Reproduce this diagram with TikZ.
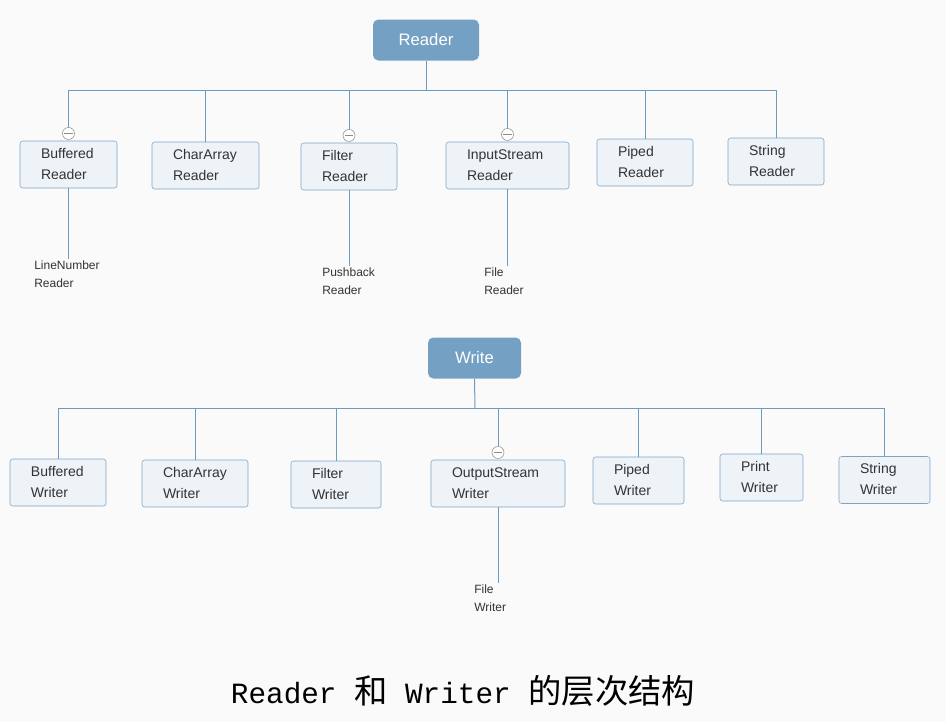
\documentclass[tikz,border=0pt]{standalone}
\usepackage{fontspec}
\setmainfont{Liberation Sans}
\setmonofont{Liberation Mono}
\newfontfamily\cjk{Noto Sans CJK SC}
\usetikzlibrary{positioning}

\definecolor{pagebg}{HTML}{FAFAFA}
\definecolor{headfill}{HTML}{74A1C3}
\definecolor{boxfill}{HTML}{EEF3F7}
\definecolor{boxline}{HTML}{7BA5C7}
\definecolor{linkcol}{HTML}{6C9BC2}
\definecolor{txtcol}{HTML}{333333}
\definecolor{abstcol}{HTML}{8C8C8C}

\newcommand{\zhtext}[1]{{\cjk\fontsize{25}{26}\selectfont #1}}

\begin{document}
\begin{tikzpicture}[x=0.75pt, y=-0.75pt,
    head/.style={rectangle, rounded corners=4pt, fill=headfill, text=white,
        font=\fontsize{12.5}{14}\selectfont, minimum height=30.75pt},
    cls/.style={rectangle, rounded corners=2pt, draw=boxline, fill=boxfill,
        minimum height=35.25pt},
    lbl/.style={anchor=west, inner sep=0pt, xshift=15.75pt, yshift=0.6pt, align=left,
        text=txtcol, font=\fontsize{10.5}{15.75}\selectfont},
    sub/.style={anchor=north west, inner xsep=0pt, inner ysep=1.5pt, align=left,
        text=txtcol, font=\fontsize{9}{13.5}\selectfont},
    abst/.style={circle, draw=abstcol, fill=white, inner sep=0pt, minimum size=9pt,
        path picture={\draw[abstcol] ([xshift=1.3pt]path picture bounding box.west)
            -- ([xshift=-1.3pt]path picture bounding box.east);}},
    link/.style={draw=linkcol, line width=0.75pt}]

    % Page
    \path[use as bounding box, fill=pagebg] (0,0) rectangle (946,722);

    % Reader and its subclasses
    \node[head, minimum width=79.5pt] (rd) at (426,40) {Reader};
    \coordinate (rbus) at (426,90);

    \node[cls, minimum width=72.75pt, label={[lbl]west:Buffered\\Reader}] (bfr) at (68.5,164.5) {};
    \node[cls, minimum width=80.25pt, label={[lbl]west:CharArray\\Reader}] (car) at (205.5,165.5) {};
    \node[cls, minimum width=72pt, label={[lbl]west:Filter\\Reader}] (flr) at (349,166.5) {};
    \node[cls, minimum width=92.25pt, label={[lbl]west:InputStream\\Reader}] (isr) at (507.5,165.5) {};
    \node[cls, minimum width=72pt, label={[lbl]west:Piped\\Reader}] (ppr) at (645,162.5) {};
    \node[cls, minimum width=72pt, label={[lbl]west:String\\Reader}] (str) at (776,161.5) {};

    % Abstract markers
    \node[abst, above=0.75pt of bfr] (bfra) {};
    \node[abst, above=0.75pt of flr] (flra) {};
    \node[abst, above=0.75pt of isr] (isra) {};

    \node[sub] (lnr) at (34,259) {LineNumber\\Reader};
    \node[sub] (pbr) at (322,266) {Pushback\\Reader};
    \node[sub] (fr) at (484,266) {File\\Reader};

    \draw[link] (rd.south) -- (rbus);
    \foreach \c in {bfra, car, flra, isra, ppr, str}
        \draw[link] (rbus) -| (\c.north);
    \draw[link] (bfr.south) -- (bfr.south |- lnr.north);
    \draw[link] (flr.south) -- (flr.south |- pbr.north);
    \draw[link] (isr.south) -- (isr.south |- fr.north);

    % Writer and its subclasses
    \node[head, minimum width=69.75pt] (wr) at (474.5,358) {Write};
    \coordinate (wbus) at (475,408);

    \node[cls, minimum width=72pt, label={[lbl]west:Buffered\\Writer}] (bfw) at (58,482.5) {};
    \node[cls, minimum width=79.5pt, label={[lbl]west:CharArray\\Writer}] (caw) at (195,483.5) {};
    \node[cls, minimum width=67.5pt, label={[lbl]west:Filter\\Writer}] (flw) at (336,484.5) {};
    \node[cls, minimum width=100.5pt, label={[lbl]west:OutputStream\\Writer}] (osw) at (498,483.5) {};
    \node[cls, minimum width=68.25pt, label={[lbl]west:Piped\\Writer}] (ppw) at (638.5,480.5) {};
    \node[cls, minimum width=62.25pt, label={[lbl]west:Print\\Writer}] (prw) at (761.5,477.5) {};
    \node[cls, minimum width=68.25pt, label={[lbl]west:String\\Writer}] (stw) at (884.5,480) {};

    \node[abst, above=0.75pt of osw] (oswa) {};
    \node[sub] (fw) at (474,583) {File\\Writer};

    \draw[link] (wr.south) -- (wbus);
    \foreach \c in {bfw, caw, flw, oswa, ppw, prw, stw}
        \draw[link] (wbus) -| (\c.north);
    \draw[link] (osw.south) -- (osw.south |- fw.north);

    % Caption
    \node[font=\ttfamily\fontsize{22}{26}\selectfont, text=black] (ttl) at (463,691)
        {Reader \zhtext{和} Writer \zhtext{的层次结构}};
\end{tikzpicture}
\end{document}
